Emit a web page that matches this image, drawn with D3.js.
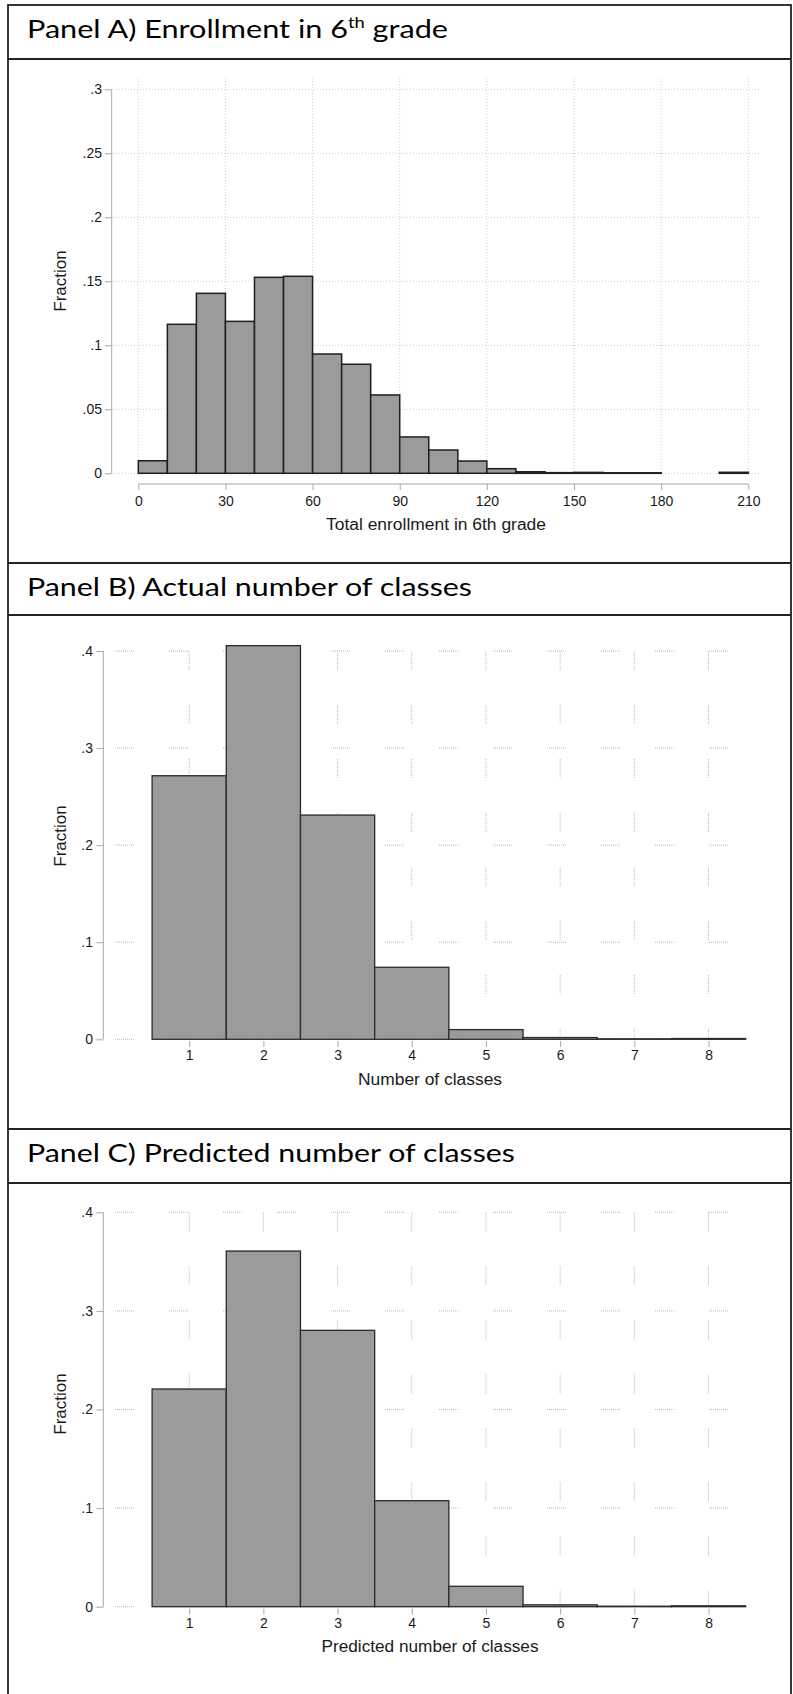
<!DOCTYPE html>
<html>
<head>
<meta charset="utf-8">
<script src="https://cdn.jsdelivr.net/npm/d3@7"></script>
<style>
  body { margin: 0; background: #fff; }
  svg { display: block; }
</style>
</head>
<body>
<svg id="fig" width="793" height="1694"></svg>
<script>
// ---- data ----
const panelTitles = ["Panel A) Enrollment in 6", "Panel B) Actual number of classes", "Panel C) Predicted number of classes"];

const enrollBinStart = [0, 10, 20, 30, 40, 50, 60, 70, 80, 90, 100, 110, 120, 130, 140, 150, 160, 170, 180, 190, 200];
const enrollFraction = [0.0098, 0.1164, 0.1406, 0.1187, 0.1531, 0.1539, 0.0932, 0.0852, 0.0612, 0.0284, 0.0182,
                        0.0096, 0.0036, 0.0012, 0.0005, 0.0007, 0.0004, 0.0004, 0, 0, 0.0008];
const enrollBinWidth = 10;
const enrollXTicks = [0, 30, 60, 90, 120, 150, 180, 210];
const enrollYTicks = [0, 0.05, 0.1, 0.15, 0.2, 0.25, 0.3];

const classNumbers = [1, 2, 3, 4, 5, 6, 7, 8];
const actualFraction = [0.2715, 0.4055, 0.2310, 0.0742, 0.0100, 0.0018, 0.0005, 0.0008];
const predictedFraction = [0.2208, 0.3607, 0.2803, 0.1075, 0.0207, 0.0019, 0.0005, 0.0009];
const classYTicks = [0, 0.1, 0.2, 0.3, 0.4];

const xTitles = ["Total enrollment in 6th grade", "Number of classes", "Predicted number of classes"];
const yTitle = "Fraction";

// ---- layout ----
const svg = d3.select("#fig");
const axisFont = "'Liberation Sans', Arial, Helvetica, sans-serif";
const titleFont = "Lato, 'Open Sans', sans-serif";
const stataTick = function(d) { return d === 0 ? "0" : String(d).replace(/^0/, ""); };

// dotted dashes: 19px of fine dots, then a 34px gap
const dottedDash = d3.range(10).map(function() { return "1,1"; }).join(",") + ",0,34";

// outer frame and header rules
svg.append("rect")
    .attr("x", 8).attr("y", 5)
    .attr("width", 783).attr("height", 1700)
    .attr("fill", "none").attr("stroke", "#222").attr("stroke-width", 1.8);

const headers = [
  {top: 5, bottom: 59, textLen: 421},
  {top: 563, bottom: 615, textLen: 445},
  {top: 1129, bottom: 1183, textLen: 488}
];

headers.forEach(function(h, i) {
  if (i > 0) {
    svg.append("line").attr("x1", 8).attr("x2", 791).attr("y1", h.top).attr("y2", h.top)
        .attr("stroke", "#222").attr("stroke-width", 1.8);
  }
  svg.append("line").attr("x1", 8).attr("x2", 791).attr("y1", h.bottom).attr("y2", h.bottom)
      .attr("stroke", "#222").attr("stroke-width", 1.8);

  const t = svg.append("text")
      .attr("x", 27).attr("y", h.top + 33)
      .attr("font-family", titleFont)
      .attr("font-size", 25)
      .attr("fill", "#000")
      .attr("textLength", h.textLen)
      .attr("lengthAdjust", "spacingAndGlyphs")
      .text(panelTitles[i]);
  if (i === 0) {
    t.append("tspan").attr("font-size", 15).attr("dy", -10).text("th");
    t.append("tspan").attr("dy", 10).text(" grade");
  }
});

function drawPanel(p) {
  const g = svg.append("g");

  // grid
  const grid = g.append("g")
      .attr("stroke", p.gridColor)
      .attr("stroke-width", 1)
      .attr("stroke-dasharray", p.gridDash)
      .attr("fill", "none");

  grid.selectAll(".hgrid")
      .data(p.yTicks)
    .enter().append("line")
      .attr("class", "hgrid")
      .attr("x1", p.gridX0).attr("x2", p.gridX1)
      .attr("y1", function(d) { return p.y(d); })
      .attr("y2", function(d) { return p.y(d); });

  grid.selectAll(".vgrid")
      .data(p.xTicks)
    .enter().append("line")
      .attr("class", "vgrid")
      .attr("x1", function(d) { return p.x(d); })
      .attr("x2", function(d) { return p.x(d); })
      .attr("y1", p.gridTop)
      .attr("y2", p.y(0));

  // bars
  g.selectAll(".bar")
      .data(p.bars)
    .enter().append("rect")
      .attr("class", "bar")
      .attr("x", function(d) { return p.x(d.x0); })
      .attr("width", function(d) { return p.x(d.x1) - p.x(d.x0); })
      .attr("y", function(d) { return p.y(d.v); })
      .attr("height", function(d) { return p.y(0) - p.y(d.v); })
      .attr("fill", "#9b9b9b")
      .attr("stroke", p.barStroke)
      .attr("stroke-width", p.barStrokeWidth);

  // y axis
  const yAxis = g.append("g")
      .attr("transform", "translate(" + p.yAxisX + ",0)")
      .call(d3.axisLeft(p.y).tickValues(p.yTicks).tickFormat(stataTick).tickSize(7).tickPadding(3));
  yAxis.select(".domain").attr("stroke", "#a8a8a8").attr("d", "M0," + p.y(p.yTicks[p.yTicks.length - 1]) + "V" + p.y(0));
  yAxis.selectAll(".tick line").attr("stroke", "#a8a8a8");
  yAxis.selectAll(".tick text")
      .attr("x", p.yLabelRight - p.yAxisX)
      .attr("font-family", axisFont).attr("font-size", 14).attr("fill", "#1a1a1a");

  // x axis
  const xAxis = g.append("g")
      .attr("transform", "translate(0," + p.xAxisY + ")")
      .call(d3.axisBottom(p.x).tickValues(p.xTicks).tickFormat(d3.format("d")).tickSize(p.xTickSize).tickPadding(3));
  xAxis.select(".domain")
      .attr("stroke", p.showXLine ? "#a8a8a8" : "none")
      .attr("d", "M" + p.x(p.xTicks[0]) + ",0H" + p.x(p.xTicks[p.xTicks.length - 1]));
  xAxis.selectAll(".tick line").attr("stroke", "#a8a8a8");
  xAxis.selectAll(".tick text")
      .attr("y", null).attr("dy", null)
      .attr("transform", "translate(0," + p.xLabelBase + ")")
      .attr("font-family", axisFont).attr("font-size", 14).attr("fill", "#1a1a1a");

  // titles
  g.append("text")
      .attr("x", p.xTitleX).attr("y", p.xTitleY)
      .attr("text-anchor", "middle")
      .attr("font-family", axisFont).attr("font-size", 16).attr("fill", "#1a1a1a")
      .attr("textLength", p.xTitleLen).attr("lengthAdjust", "spacingAndGlyphs")
      .text(p.xTitle);

  g.append("text")
      .attr("transform", "translate(66," + p.yTitleCY + ") rotate(-90)")
      .attr("text-anchor", "middle")
      .attr("font-family", axisFont).attr("font-size", 17).attr("fill", "#1a1a1a")
      .text(yTitle);
}

// Panel A
const xA = d3.scaleLinear().domain([0, 210]).range([138.3, 748.3]);
const yA = d3.scaleLinear().domain([0, 0.3]).range([473.3, 89.3]);
drawPanel({
  x: xA, y: yA,
  bars: enrollBinStart.map(function(s, i) { return {x0: s, x1: s + enrollBinWidth, v: enrollFraction[i]}; }),
  xTicks: enrollXTicks, yTicks: enrollYTicks,
  gridColor: "#cfcfcf", gridDash: "1,2",
  gridX0: 113, gridX1: 759, gridTop: 78,
  barStroke: "#1e1e1e", barStrokeWidth: 1.5,
  yAxisX: 111.7, yLabelRight: 102,
  xAxisY: 484, xTickSize: 6, showXLine: true, xLabelBase: 22,
  xTitle: xTitles[0], xTitleX: 436, xTitleY: 530, xTitleLen: 220,
  yTitleCY: 281
});

// Panel B
const xB = d3.scaleLinear().domain([0, 8.64]).range([115, 756]);
const yB = d3.scaleLinear().domain([0, 0.4]).range([1039.3, 651]);
drawPanel({
  x: xB, y: yB,
  bars: classNumbers.map(function(c, i) { return {x0: c - 0.5, x1: c + 0.5, v: actualFraction[i]}; }),
  xTicks: classNumbers, yTicks: classYTicks,
  gridColor: "#b8b8b8", gridDash: dottedDash,
  gridX0: 115, gridX1: 756, gridTop: 651,
  barStroke: "#2a2a2a", barStrokeWidth: 1.3,
  yAxisX: 103.3, yLabelRight: 93,
  xAxisY: 1041, xTickSize: 6, showXLine: false, xLabelBase: 19,
  xTitle: xTitles[1], xTitleX: 430, xTitleY: 1085, xTitleLen: 144,
  yTitleCY: 836
});

// Panel C
const xC = d3.scaleLinear().domain([0, 8.64]).range([115, 756]);
const yC = d3.scaleLinear().domain([0, 0.4]).range([1606.7, 1212.3]);
drawPanel({
  x: xC, y: yC,
  bars: classNumbers.map(function(c, i) { return {x0: c - 0.5, x1: c + 0.5, v: predictedFraction[i]}; }),
  xTicks: classNumbers, yTicks: classYTicks,
  gridColor: "#b8b8b8", gridDash: dottedDash,
  gridX0: 115, gridX1: 756, gridTop: 1212.3,
  barStroke: "#2a2a2a", barStrokeWidth: 1.3,
  yAxisX: 103.3, yLabelRight: 93,
  xAxisY: 1608.5, xTickSize: 6, showXLine: false, xLabelBase: 19,
  xTitle: xTitles[2], xTitleX: 430, xTitleY: 1652, xTitleLen: 217,
  yTitleCY: 1404
});
</script>
</body>
</html>
